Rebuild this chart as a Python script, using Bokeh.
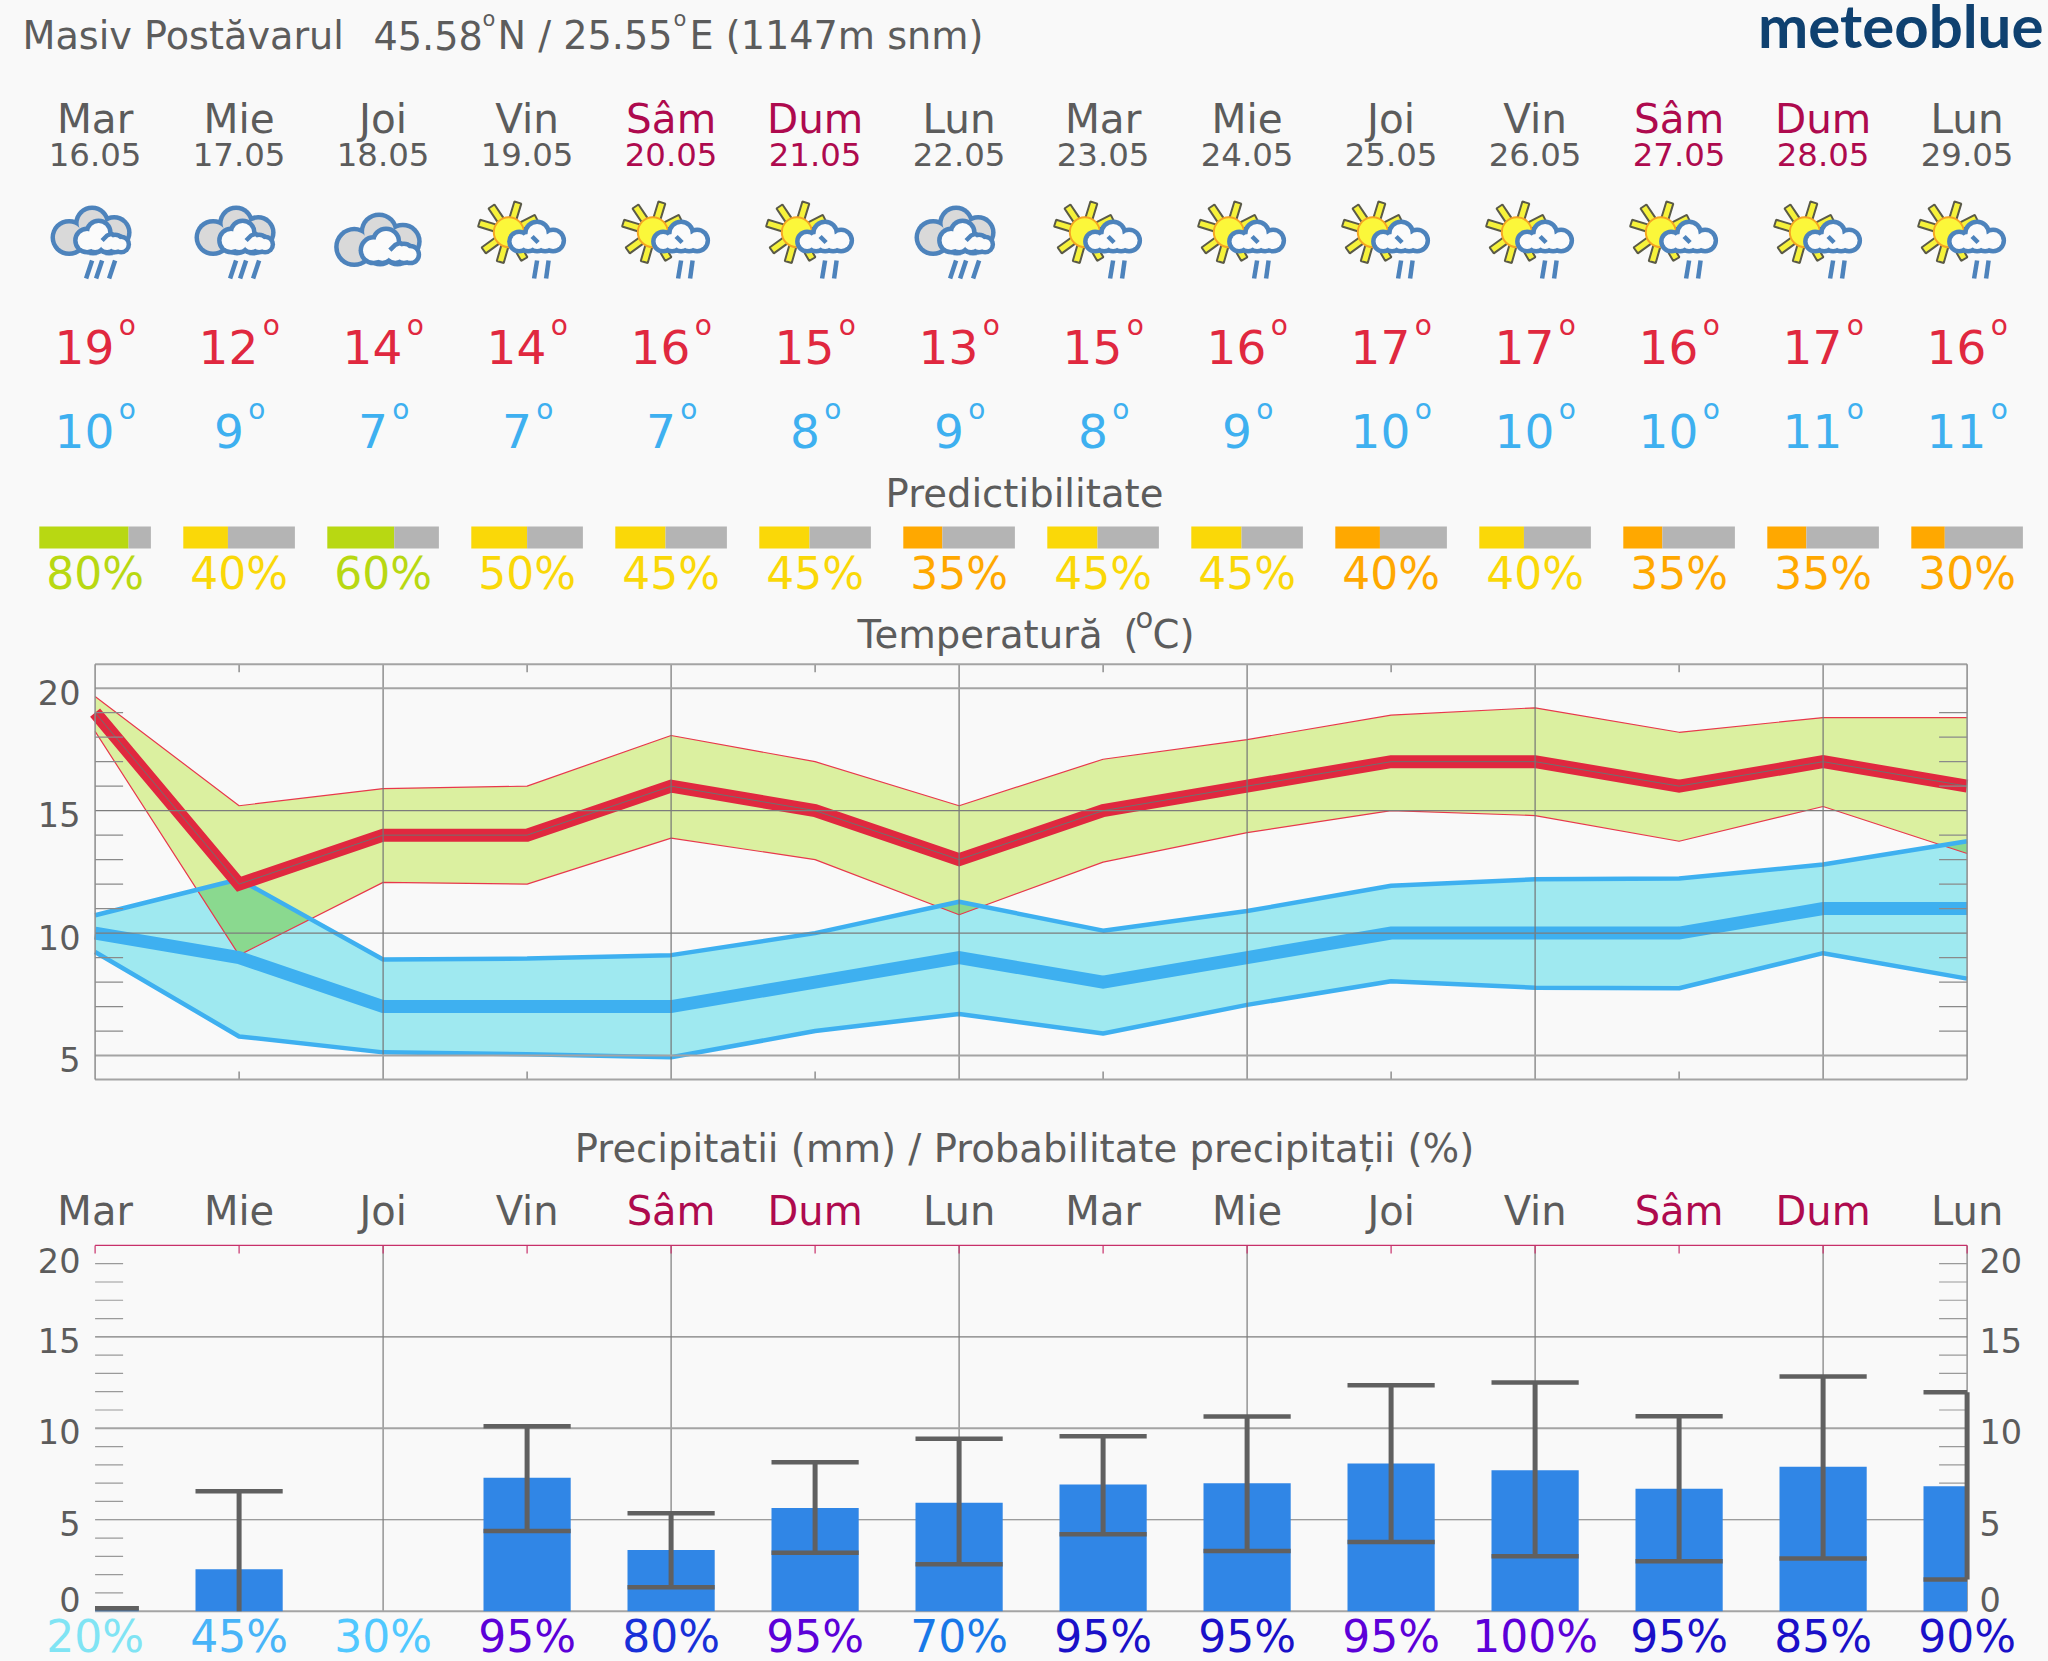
import numpy as np
from bokeh.plotting import figure
from bokeh.layouts import column
from bokeh.models import Range1d, LinearAxis, FixedTicker
from bokeh.core.properties import value
from bokeh.embed import file_html
from bokeh.resources import INLINE

# ---------- data ----------
days = list(range(14))
day_names = ["Mar", "Mie", "Joi", "Vin", "Sâm", "Dum", "Lun", "Mar", "Mie", "Joi", "Vin", "Sâm", "Dum", "Lun"]
dates = ["16.05", "17.05", "18.05", "19.05", "20.05", "21.05", "22.05", "23.05", "24.05", "25.05", "26.05", "27.05", "28.05", "29.05"]
weekend = [4, 5, 11, 12]
icons = ["rain", "rain", "cloud", "sun", "sun", "sun", "rain", "sun", "sun", "sun", "sun", "sun", "sun", "sun"]
t_max = [19, 12, 14, 14, 16, 15, 13, 15, 16, 17, 17, 16, 17, 16]
t_min = [10, 9, 7, 7, 7, 8, 9, 8, 9, 10, 10, 10, 11, 11]
predict = [80, 40, 60, 50, 45, 45, 35, 45, 45, 40, 40, 35, 35, 30]
predict_col = ["#B8D812", "#FAD808", "#B8D812", "#FAD808", "#FAD808", "#FAD808", "#FFA800", "#FAD808", "#FAD808", "#FFA800", "#FAD808", "#FFA800", "#FFA800", "#FFA800"]
max_hi = [19.66, 15.2, 15.9, 16.0, 18.07, 17.0, 15.2, 17.1, 17.9, 18.9, 19.2, 18.2, 18.8, 18.8]
max_lo = [18.24, 9.1, 12.07, 12.0, 13.88, 13.0, 10.75, 12.9, 14.1, 15.0, 14.8, 13.75, 15.17, 13.25]
min_hi = [10.73, 12.2, 8.92, 8.96, 9.1, 10.0, 11.28, 10.1, 10.9, 11.93, 12.2, 12.23, 12.8, 13.75]
min_lo = [9.23, 5.78, 5.13, 5.05, 4.93, 6.0, 6.7, 5.9, 7.07, 8.03, 7.77, 7.75, 9.18, 8.14]
rain = [0.1, 2.3, 0.0, 7.3, 3.35, 5.64, 5.93, 6.93, 7.0, 8.07, 7.71, 6.69, 7.9, 6.83]
rain_hi = [0.16, 6.56, None, 10.11, 5.36, 8.14, 9.43, 9.57, 10.64, 12.36, 12.5, 10.66, 12.83, 11.97]
rain_lo = [0.16, 0.0, None, 4.39, 1.31, 3.2, 2.57, 4.21, 3.29, 3.79, 3.0, 2.73, 2.88, 1.73]
rain_prob = [20, 45, 30, 95, 80, 95, 70, 95, 95, 95, 100, 95, 85, 90]
rain_prob_col = ["#80E4F4", "#48B4F8", "#50C8FF", "#5C00D8", "#1830D8", "#5C00D8", "#1878E8", "#1A10C8", "#1A10C8", "#5C00D8", "#5C00D8", "#1A10C8", "#1A10C8", "#1A10C8"]
temp_labels = [5, 10, 15, 20]
rain_labels = [0, 5, 10, 15, 20]

# ---------- style ----------
BG = "#F9F9F9"
GREY = "#5C5C5C"
CRIM = "#AE0A4E"
RED = "#E0283F"
BLUE = "#3EB0F0"
FONT = value("DejaVu Sans")
X0, PX = 94.6, 144.0
PW = 2048
KB = 0.335  # baseline correction of the svg text, in em


def dx(day, off=0.0):
    return day + off / PX


def base_fig(height, top_page):
    f = figure(width=PW, height=height, output_backend="svg", toolbar_location=None,
               x_range=Range1d((0 - X0) / PX, (PW - X0) / PX),
               y_range=Range1d(top_page + height, top_page),
               min_border_left=0, min_border_right=0, min_border_top=0, min_border_bottom=0,
               background_fill_color=BG, border_fill_color=BG, outline_line_color=None,
               x_axis_location=None, y_axis_location=None, frame_align=False)
    f.grid.visible = False
    return f


def txt(f, x, y, s, size, color=GREY, align="center", font=FONT, style="normal"):
    f.text(x=[x], y=[y - KB * size], text=[s], text_font=font, text_font_size=f"{size}px", text_color=color,
           text_align=align, text_baseline="alphabetic", text_font_style=style)


# ---------- header ----------
h = base_fig(656, 0)
txt(h, dx(0, 22 - X0), 48, "Masiv Postăvarul", 38.2, align="left")
txt(h, dx(0, 373 - X0), 48, "45.58", 38.2, align="left")
txt(h, dx(0, 482 - X0), 26, "o", 21, align="left")
txt(h, dx(0, 497 - X0), 48, "N / 25.55", 38.2, align="left")
txt(h, dx(0, 673 - X0), 26, "o", 21, align="left")
txt(h, dx(0, 689 - X0), 48, "E (1147m snm)", 38.2, align="left")
txt(h, dx(0, 2043 - X0), 45, "meteoblue", 60, color="#0F4170", align="right", font=value("Lato"), style="bold")
txt(h, dx(0, 1024 - X0), 506, "Predictibilitate", 38.6)
txt(h, dx(0, 857 - X0), 647, "Temperatură", 38.6, align="left")
txt(h, dx(0, 1123 - X0), 647, "(", 38.6, align="left")
txt(h, dx(0, 1135 - X0), 627, "o", 29, align="left")
txt(h, dx(0, 1152 - X0), 647, "C)", 38.6, align="left")

for d in days:
    c = CRIM if d in weekend else GREY
    txt(h, d, 132, day_names[d], 40.5, c)
    txt(h, d, 165, dates[d], 32.4, c)
    for vals, col, yb in ((t_max, RED, 362), (t_min, "#3EB0F0", 446)):
        v = str(vals[d])
        shift = 19.2 if len(v) == 2 else 4.7
        txt(h, dx(d, shift), yb, v, 47, col, align="right")
        txt(h, dx(d, shift + 4.5), yb - 28, "o", 28, col, align="left")
    txt(h, d, 588, f"{predict[d]}%", 44, predict_col[d])

# predictability bars
bw = 111.6 / 2 / PX
bx = np.array(days, dtype=float)
frac = np.array(predict) / 100 * 2 * bw
h.quad(left=bx - bw, right=bx - bw + frac, top=526, bottom=548, fill_color=predict_col, line_color=None)
h.quad(left=bx - bw + frac, right=bx + bw, top=526, bottom=548, fill_color="#B4B4B4", line_color=None)


# icons
IC = "#4D83BC"


def blobs(f, day, lobes, color, inset=0.0, k=1.0, ox=0.0, oy=0.0):
    f.scatter(x=[dx(day, ox + a * k) for a, b, r in lobes], y=[oy + b * k for a, b, r in lobes],
              size=[2 * (r * k - inset) for a, b, r in lobes], marker="circle", fill_color=color, line_color=None)


BACK = [(-26, 237, 18.6), (-3, 223, 18), (19, 232, 17.5), (-2, 240, 15), (14, 240, 15)]
FRONT = [(-8, 240, 14), (3.5, 232, 14), (0, 242, 12), (12, 242, 12), (20, 243, 11), (26, 244, 10)]
SFRONT = [(-8, 241, 12), (10, 233, 14), (26, 240, 13), (10, 241, 12), (1, 241, 12), (18, 241, 12)]
RAYS = [124, 73, 27, 163, 216, 254, 300]


def draw_icon(day, kind):
    if kind == "sun":
        sx, sy = -18.3, 231.7
        px, py = [], []
        for ang in RAYS:
            a = np.deg2rad(ang)
            ux, uy = np.cos(a), -np.sin(a)
            nx, ny = -uy, ux
            r0, r1, w = 14, 31, 3.6
            px.append([dx(day, sx + ux * r0 + nx * w), dx(day, sx + ux * r1 + nx * w),
                       dx(day, sx + ux * r1 - nx * w), dx(day, sx + ux * r0 - nx * w)])
            py.append([sy + uy * r0 + ny * w, sy + uy * r1 + ny * w, sy + uy * r1 - ny * w, sy + uy * r0 - ny * w])
        h.patches(px, py, fill_color="#F6F23A", line_color="#5A5A48", line_width=2)
        h.scatter(x=[dx(day, sx)], y=[sy], size=30, marker="circle", fill_color="#FBF73A", line_color="#F5A623", line_width=2)
        blobs(h, day, SFRONT, IC)
        blobs(h, day, SFRONT, "#FBFBFB", 4.5)
        h.line([dx(day, 5), dx(day, 11)], [236, 242], line_color=IC, line_width=4.5)
        h.segment(x0=[dx(day, 10), dx(day, 21.5)], y0=[260, 260], x1=[dx(day, 7), dx(day, 19)], y1=[278, 278],
                  line_color=IC, line_width=4.5)
    else:
        k, ox, oy = (1.08, -0.8, -9.5) if kind == "cloud" else (1.0, 0.0, 0.0)
        blobs(h, day, BACK, IC, 0, k, ox, oy)
        blobs(h, day, BACK, "#D9D9D9", 4.5, k, ox, oy)
        blobs(h, day, FRONT, IC, 0, k, ox, oy)
        blobs(h, day, FRONT, "#FBFBFB", 4.5, k, ox, oy)
        h.line([dx(day, ox + 7 * k), dx(day, ox + 12 * k), dx(day, ox + 17 * k)],
               [oy + 240 * k, oy + 235 * k, oy + 233 * k], line_color=IC, line_width=4.5)
        if kind == "rain":
            h.segment(x0=[dx(day, a + 3) for a in (-6, 4, 17)], y0=[260] * 3,
                      x1=[dx(day, a - 3) for a in (-6, 4, 17)], y1=[278] * 3, line_color=IC, line_width=4.5)


for d in days:
    draw_icon(d, icons[d])

# ---------- temperature ----------
T_PAGE_TOP, T_H = 656, 430
T_K = 24.49


def tv(page_y):
    return 20 - (page_y - 687.7) / T_K


t = figure(width=PW, height=T_H, output_backend="svg", toolbar_location=None,
           x_range=Range1d((86 - X0) / PX, (1974 - X0) / PX),
           y_range=Range1d(tv(T_PAGE_TOP + T_H), tv(T_PAGE_TOP)),
           min_border_left=86, min_border_right=74, min_border_top=0, min_border_bottom=0,
           background_fill_color=BG, border_fill_color=BG, outline_line_color=None,
           x_axis_location=None, y_axis_location="left", frame_align=False)
t.grid.visible = False
ax = t.yaxis[0]
lab_off = -0.16
ax.ticker = FixedTicker(ticks=[v + lab_off for v in temp_labels])
ax.major_label_overrides = {v + lab_off: str(v) for v in temp_labels}
ax.axis_line_color = None
ax.major_tick_line_color = None
ax.minor_tick_line_color = None
ax.major_tick_out = 0
ax.minor_tick_out = 0
ax.major_label_standoff = 6
ax.major_label_text_font = "DejaVu Sans"
ax.major_label_text_font_size = "33.5px"
ax.major_label_text_color = GREY

xs = np.array(days, dtype=float)
t.varea(x=xs, y1=max_lo, y2=max_hi, fill_color="#DBF0A0")
t.varea(x=xs, y1=min_lo, y2=min_hi, fill_color="#9FE9F0")
grid_x = np.linspace(0, 13, 2601)
o_top = np.minimum(np.interp(grid_x, xs, max_hi), np.interp(grid_x, xs, min_hi))
o_bot = np.maximum(np.interp(grid_x, xs, max_lo), np.interp(grid_x, xs, min_lo))
t.varea(x=grid_x, y1=np.minimum(o_top, o_bot), y2=o_top, fill_color="#8AD98F")
t.line(xs, max_hi, line_color="#E8384C", line_width=1.2)
t.line(xs, max_lo, line_color="#E8384C", line_width=1.2)
t.line(xs, min_hi, line_color=BLUE, line_width=4.5)
t.line(xs, min_lo, line_color=BLUE, line_width=4.5)
t.line(xs, t_min, line_color=BLUE, line_width=13, line_join="miter")
t.line(xs, t_max, line_color=RED, line_width=13, line_join="miter")
t.line(xs, t_max, line_color="#707070", line_width=1)

T_TOP, T_BOT = tv(663.7), tv(1079)
tick_t = 8 / T_K
even = [2, 4, 6, 8, 10, 12]
odd = [1, 3, 5, 7, 9, 11]
t.segment(x0=even, x1=even, y0=[T_BOT] * 6, y1=[T_TOP] * 6, line_color="#757575", line_width=1.2)
t.segment(x0=odd, x1=odd, y0=[T_TOP] * 6, y1=[T_TOP - tick_t] * 6, line_color="#757575", line_width=1.2)
t.segment(x0=odd, x1=odd, y0=[T_BOT] * 6, y1=[T_BOT + tick_t] * 6, line_color="#757575", line_width=1.2)
minor_t = [v for v in range(6, 20) if v % 5]
tl = 28 / PX
t.segment(x0=[0] * len(minor_t), x1=[tl] * len(minor_t), y0=minor_t, y1=minor_t, line_color="#8A8A8A", line_width=1.2)
t.segment(x0=[13] * len(minor_t), x1=[13 - tl] * len(minor_t), y0=minor_t, y1=minor_t, line_color="#8A8A8A", line_width=1.2)
t.segment(x0=[0, 0], x1=[13, 13], y0=[20, 5], y1=[20, 5], line_color="#A4A4A4", line_width=2)
t.segment(x0=[0, 0], x1=[13, 13], y0=[15, 10], y1=[15, 10], line_color="#7C7C7C", line_width=1.3)
t.segment(x0=[0, 0], x1=[13, 13], y0=[T_TOP, T_BOT], y1=[T_TOP, T_BOT], line_color="#A4A4A4", line_width=2)
t.segment(x0=[0, 13], x1=[0, 13], y0=[T_BOT, T_BOT], y1=[T_TOP, T_TOP], line_color="#8C8C8C", line_width=1.5)

# ---------- precipitation heading ----------
m = base_fig(157, 1086)
txt(m, dx(0, 1024 - X0), 1161, "Precipitatii (mm) / Probabilitate precipitații (%)", 38.6)
for d in days:
    txt(m, d, 1223.5, day_names[d], 40, CRIM if d in weekend else GREY)

# ---------- precipitation ----------
R_PAGE_TOP, R_H = 1243, 373
R_K = 18.29


def rv(page_y):
    return (1610.7 - page_y) / R_K


r = figure(width=PW, height=R_H, output_backend="svg", toolbar_location=None,
           x_range=Range1d((86 - X0) / PX, (1974 - X0) / PX),
           y_range=Range1d(rv(R_PAGE_TOP + R_H), rv(R_PAGE_TOP)),
           min_border_left=86, min_border_right=74, min_border_top=0, min_border_bottom=0,
           background_fill_color=BG, border_fill_color=BG, outline_line_color=None,
           x_axis_location=None, y_axis_location="left", frame_align=False)
r.grid.visible = False
shift = {0: 0.66, 5: -0.2, 10: -0.2, 15: -0.2, 20: -0.85}
rticks = [v + shift[v] for v in rain_labels]
roverride = {v + shift[v]: str(v) for v in rain_labels}
rax = r.yaxis[0]
rax2 = LinearAxis()
r.add_layout(rax2, "right")
for a_, st in ((rax, 6), (rax2, 5)):
    a_.ticker = FixedTicker(ticks=rticks)
    a_.major_label_overrides = roverride
    a_.axis_line_color = None
    a_.major_tick_line_color = None
    a_.minor_tick_line_color = None
    a_.major_tick_out = 0
    a_.minor_tick_out = 0
    a_.major_label_standoff = st
    a_.major_label_text_font = "DejaVu Sans"
    a_.major_label_text_font_size = "33.5px"
    a_.major_label_text_color = GREY

r.segment(x0=even + [13], x1=even + [13], y0=[0] * 7, y1=[20] * 7, line_color="#7C7C7C", line_width=1.2)
minor_r = [v for v in range(1, 20) if v % 5]
r.segment(x0=[0] * len(minor_r), x1=[tl] * len(minor_r), y0=minor_r, y1=minor_r, line_color="#9A9A9A", line_width=1.2)
r.segment(x0=[13] * len(minor_r), x1=[13 - tl] * len(minor_r), y0=minor_r, y1=minor_r, line_color="#9A9A9A", line_width=1.2)
r.segment(x0=[0, 0], x1=[13, 13], y0=[15, 5], y1=[15, 5], line_color="#7C7C7C", line_width=1.2)
r.segment(x0=[0], x1=[13], y0=[10], y1=[10], line_color="#A4A4A4", line_width=2)
r.segment(x0=[0], x1=[13], y0=[0], y1=[0], line_color="#A4A4A4", line_width=2)

half = 43.6 / PX
left = np.clip(xs - half, 0, 13)
right = np.clip(xs + half, 0, 13)
r.quad(left=left, right=right, bottom=0, top=rain, fill_color="#3086E6", line_color=None)

wd = [d for d in days if rain_hi[d] is not None]
r.segment(x0=[d for d in wd if d != 0], x1=[d for d in wd if d != 0],
          y0=[rain_lo[d] for d in wd if d != 0], y1=[rain_hi[d] for d in wd if d != 0],
          line_color="#606060", line_width=5)
r.segment(x0=[left[d] for d in wd], x1=[right[d] for d in wd], y0=[rain_hi[d] for d in wd], y1=[rain_hi[d] for d in wd],
          line_color="#606060", line_width=4.5)
lw = [d for d in wd if rain_lo[d] > 0]
r.segment(x0=[left[d] for d in lw], x1=[right[d] for d in lw], y0=[rain_lo[d] for d in lw], y1=[rain_lo[d] for d in lw],
          line_color="#606060", line_width=4.5)
r.segment(x0=[0], x1=[13], y0=[20], y1=[20], line_color="#C8306A", line_width=1.2)
tick_r = 8 / R_K
r.segment(x0=days, x1=days, y0=[20] * 14, y1=[20 - tick_r] * 14, line_color="#C8306A", line_width=1.2)

# ---------- probabilities ----------
b = base_fig(45, 1616)
for d in days:
    txt(b, d, 1651, f"{rain_prob[d]}%", 44, rain_prob_col[d])

page = column(h, t, m, r, b, spacing=0)
html = file_html(page, INLINE)
html = html.replace("</head>", f"<style>html,body{{background:{BG};overflow:hidden}}</style></head>", 1)
open("out.html", "w").write(html)
